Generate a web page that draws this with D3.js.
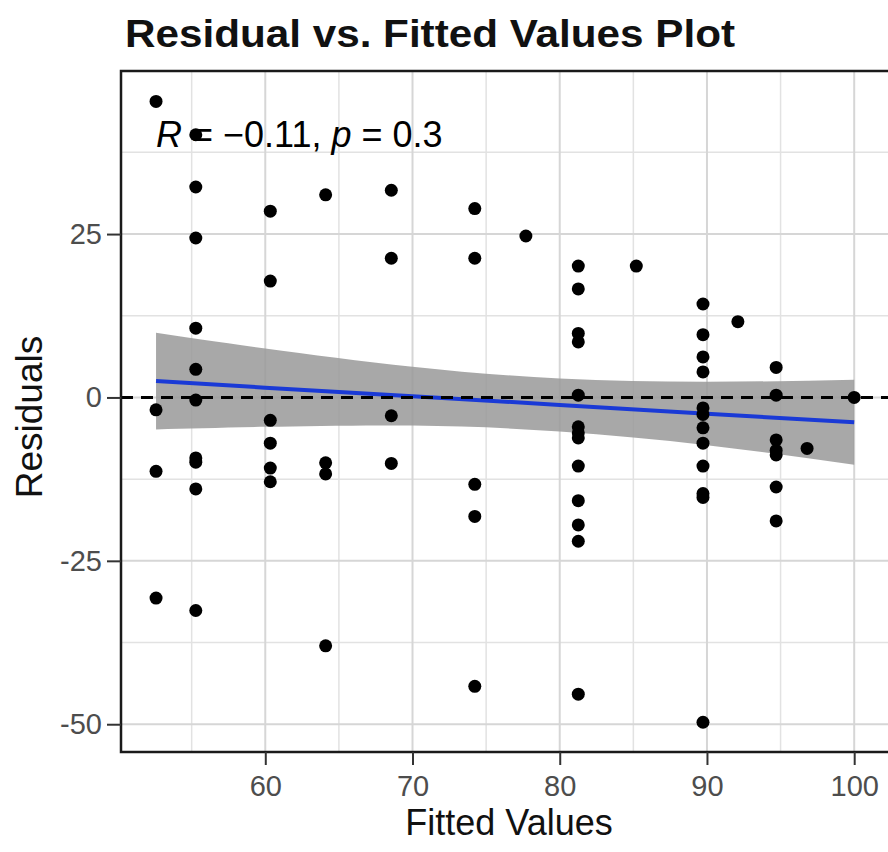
<!DOCTYPE html>
<html>
<head>
<meta charset="utf-8">
<script src="https://cdn.jsdelivr.net/npm/d3@7"></script>
<style>
  body { margin: 0; background: #fff; }
  svg { display: block; font-family: "Liberation Sans", Arial, sans-serif; }
</style>
</head>
<body>
<svg id="chart" width="888" height="852"></svg>
<script>
// fitted value of each column of points, and the residuals stacked in it
const fittedLevels = [52.58, 55.28, 60.34, 64.1, 68.56, 74.23, 77.7, 81.26, 85.2, 89.73, 92.1, 94.7, 96.8, 100.0];
const residualGroups = [
  [45.3, -1.9, -11.3, -30.7],
  [40.2, 32.2, 24.4, 10.6, 4.3, -0.4, -9.25, -9.9, -14.0, -32.6],
  [28.5, 17.8, -3.5, -7.0, -10.8, -12.9],
  [31.0, -10.0, -11.7, -38.0],
  [31.7, 21.3, -2.8, -10.1],
  [28.9, 21.3, -13.3, -18.2, -44.2],
  [24.7],
  [20.1, 16.6, 9.8, 8.5, 0.35, -4.5, -5.4, -6.2, -10.5, -15.8, -19.5, -22.0, -45.4],
  [20.1],
  [14.3, 9.6, 6.2, 3.9, -1.6, -2.6, -4.65, -7.0, -10.5, -14.7, -15.3, -49.7],
  [11.6],
  [4.6, 0.35, -6.5, -8.1, -8.8, -13.7, -18.9],
  [-7.8],
  [0.0]
];

// lm smooth: fit line and 95% band edges
const smoothX = [52.58, 60, 70, 80, 90, 100];
const smoothFit = [2.5, 1.5, 0.2, -1.15, -2.5, -3.8];
const smoothLo = [-4.9, -4.5, -4.3, -5.2, -7.3, -10.3];
const smoothHi = [9.9, 7.5, 4.7, 2.9, 2.4, 2.7];

const xTicks = [60, 70, 80, 90, 100];
const yTicks = [-50, -25, 0, 25];
const xMinor = [55, 65, 75, 85, 95];
const yMinor = [-37.5, -12.5, 12.5, 37.5];
const statLabel = { r: "\u22120.11", p: "0.3" };

const points = [];
fittedLevels.forEach((f, i) => residualGroups[i].forEach(r => points.push({ x: f, y: r })));
const smooth = smoothX.map((v, i) => ({ x: v, y: smoothFit[i], lo: smoothLo[i], hi: smoothHi[i] }));

const svg = d3.select("#chart");
const pLeft = 121, pTop = 71, pRight = 891, pBottom = 752;

const x = d3.scaleLinear().domain([50.2, 102.5]).range([pLeft, pRight]);
const y = d3.scaleLinear().domain([-54.25, 49.95]).range([pBottom, pTop]);

svg.append("defs").append("clipPath").attr("id", "panel")
  .append("rect").attr("x", pLeft).attr("y", pTop).attr("width", pRight - pLeft).attr("height", pBottom - pTop);

const g = svg.append("g").attr("clip-path", "url(#panel)");

g.selectAll(".minor-x").data(xMinor).enter().append("line")
  .attr("x1", d => x(d)).attr("x2", d => x(d)).attr("y1", pTop).attr("y2", pBottom)
  .attr("stroke", "#e2e2e2").attr("stroke-width", 1.5);
g.selectAll(".minor-y").data(yMinor).enter().append("line")
  .attr("y1", d => y(d)).attr("y2", d => y(d)).attr("x1", pLeft).attr("x2", pRight)
  .attr("stroke", "#e2e2e2").attr("stroke-width", 1.5);
g.selectAll(".major-x").data(xTicks).enter().append("line")
  .attr("x1", d => x(d)).attr("x2", d => x(d)).attr("y1", pTop).attr("y2", pBottom)
  .attr("stroke", "#d6d6d6").attr("stroke-width", 2);
g.selectAll(".major-y").data(yTicks).enter().append("line")
  .attr("y1", d => y(d)).attr("y2", d => y(d)).attr("x1", pLeft).attr("x2", pRight)
  .attr("stroke", "#d6d6d6").attr("stroke-width", 2);

g.append("path").datum(smooth)
  .attr("d", d3.area().curve(d3.curveNatural).x(d => x(d.x)).y0(d => y(d.lo)).y1(d => y(d.hi)))
  .attr("fill", "#999999").attr("fill-opacity", 0.85);
g.append("path").datum(smooth)
  .attr("d", d3.line().x(d => x(d.x)).y(d => y(d.y)))
  .attr("fill", "none").attr("stroke", "#1a3ad6").attr("stroke-width", 4);

g.selectAll("circle").data(points).enter().append("circle")
  .attr("cx", d => x(d.x)).attr("cy", d => y(d.y)).attr("r", 6.5).attr("fill", "#000");

g.append("line")
  .attr("x1", pLeft).attr("x2", pRight).attr("y1", y(0)).attr("y2", y(0))
  .attr("stroke", "#000").attr("stroke-width", 3).attr("stroke-dasharray", "12,8");

const stat = svg.append("text").attr("x", 156).attr("y", 147)
  .attr("font-size", 36).attr("fill", "#000");
stat.append("tspan").attr("font-style", "italic").text("R");
stat.append("tspan").text(" = " + statLabel.r + ", ");
stat.append("tspan").attr("font-style", "italic").text("p");
stat.append("tspan").text(" = " + statLabel.p);

svg.append("rect").attr("x", pLeft).attr("y", pTop).attr("width", pRight - pLeft).attr("height", pBottom - pTop)
  .attr("fill", "none").attr("stroke", "#1a1a1a").attr("stroke-width", 2.5);

const xAxis = svg.append("g").attr("transform", `translate(0,${pBottom})`)
  .call(d3.axisBottom(x).tickValues(xTicks).tickSize(13).tickPadding(10));
const yAxis = svg.append("g").attr("transform", `translate(${pLeft},0)`)
  .call(d3.axisLeft(y).tickValues(yTicks).tickSize(14).tickPadding(5).tickFormat(d => String(d)));
[xAxis, yAxis].forEach(a => {
  a.select(".domain").remove();
  a.selectAll("line").attr("stroke", "#333").attr("stroke-width", 2);
  a.selectAll("text").attr("font-size", 29).attr("fill", "#4d4d4d")
    .attr("font-family", "'Liberation Sans', Arial, sans-serif");
});

svg.append("text").attr("x", 125).attr("y", 47)
  .attr("font-size", 38).attr("font-weight", "bold").attr("fill", "#111")
  .attr("textLength", 610).attr("lengthAdjust", "spacingAndGlyphs")
  .text("Residual vs. Fitted Values Plot");

svg.append("text").attr("x", 509).attr("y", 835).attr("text-anchor", "middle")
  .attr("font-size", 36).attr("fill", "#111").text("Fitted Values");

svg.append("text").attr("transform", "translate(42,417) rotate(-90)").attr("text-anchor", "middle")
  .attr("font-size", 37).attr("fill", "#111").text("Residuals");
</script>
</body>
</html>
